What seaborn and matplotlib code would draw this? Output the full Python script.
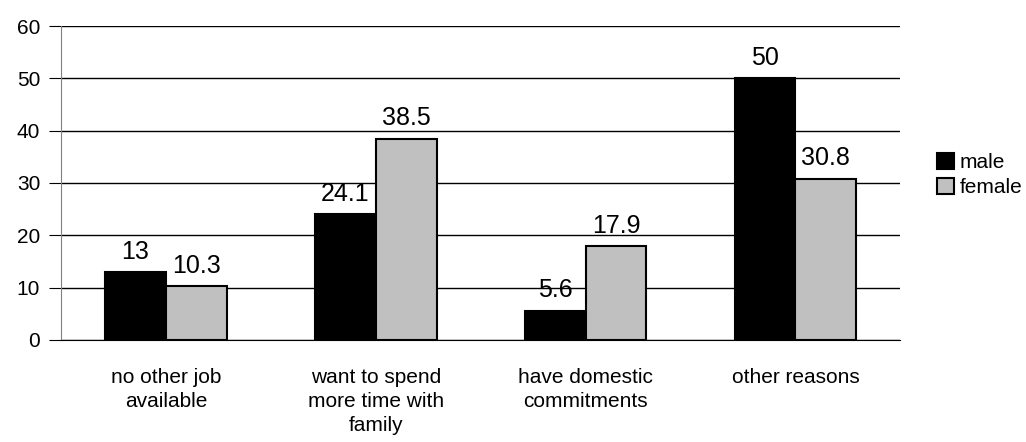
import pandas as pd
import matplotlib.pyplot as plt
import numpy as np
import seaborn as sns

categories = ["no other job\navailable", "want to spend\nmore time with\nfamily",
              "have domestic\ncommitments", "other reasons"]
male = [13, 24.1, 5.6, 50]
female = [10.3, 38.5, 17.9, 30.8]

data = pd.DataFrame({
    "reason": categories * 2,
    "sex": ["male"] * 4 + ["female"] * 4,
    "value": male + female,
})

sns.set_style("white")
plt.rcParams['font.family'] = ['Liberation Sans', 'DejaVu Sans']
plt.rcParams['text.color'] = 'black'
plt.rcParams['xtick.color'] = 'black'
plt.rcParams['ytick.color'] = 'black'

fig = plt.figure(figsize=(10.26, 4.42), dpi=100)
ax = fig.add_axes([0.0595, 0.231, 0.818, 0.71])

sns.barplot(data=data, x="reason", y="value", hue="sex",
            palette=["black", "#c0c0c0"], edgecolor="black", linewidth=1.5,
            width=0.58, ax=ax, legend=True)

for c in ax.containers:
    ax.bar_label(c, labels=[f"{v:g}" for v in c.datavalues], padding=6, fontsize=18)

ax.set_ylim(0, 60)
ax.set_xlim(-0.5, 3.5)
ax.set_yticks(np.arange(0, 61, 10))
ax.yaxis.grid(True, color="black", linewidth=1)
ax.set_axisbelow(True)
ax.set_xlabel("")
ax.set_ylabel("")

for s in ["top", "right"]:
    ax.spines[s].set_visible(False)
ax.spines["left"].set_color("gray")
ax.spines["bottom"].set_color("black")

ax.set_xticks(np.arange(-0.5, 4, 1), minor=True)
ax.tick_params(axis="x", which="major", length=0, pad=20, labelsize=15)
ax.tick_params(axis="x", which="minor", length=7, color="gray", direction="out")
ax.tick_params(axis="y", length=9, color="black", direction="out", labelsize=15, pad=6)
ax.tick_params(axis="y", left=True)
for t in ax.get_xticklabels():
    t.set_linespacing(1.35)

h, l = ax.get_legend_handles_labels()
ax.get_legend().remove()
fig.legend(h, l, loc="center left", bbox_to_anchor=(0.895, 0.604), frameon=False,
           fontsize=15, handlelength=0.8, handleheight=0.8, handletextpad=0.3,
           labelspacing=0.3)

fig.savefig("out.png", dpi=100)
